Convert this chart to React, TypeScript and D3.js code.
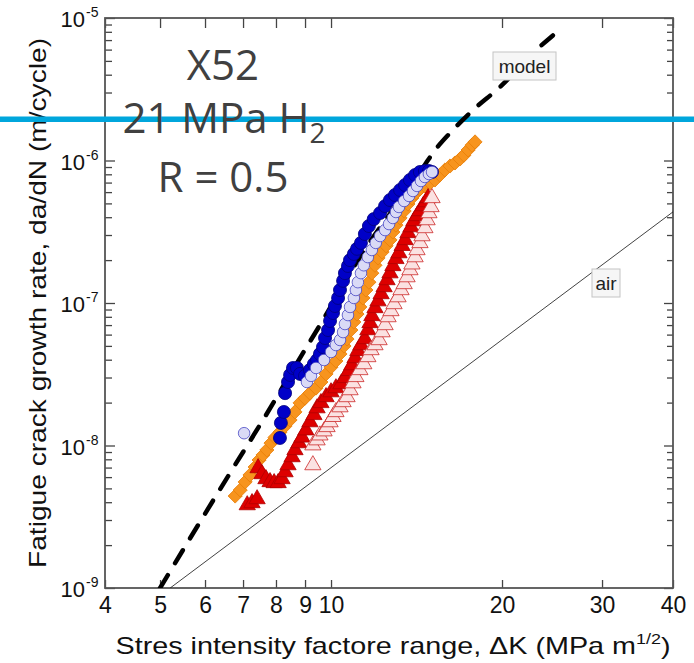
import React, { useEffect, useRef } from 'react';
import * as d3 from 'd3';

const W = 694;
const H = 663;

// axis ticks
const xTicks = [4, 5, 6, 7, 8, 9, 10, 20, 30, 40];
const yExponents = [-9, -8, -7, -6, -5];

// [dK (MPa m^1/2), da/dN (m/cycle)]
const blueFilled: [number, number][] = [
  [8.13, 1.13e-8], [8.16, 1.44e-8], [8.26, 1.72e-8], [8.3, 2.33e-8], [8.4, 2.79e-8],
  [8.47, 3.13e-8], [8.57, 3.5e-8], [8.71, 3.5e-8], [8.82, 3.18e-8], [9.0, 3.08e-8],
  [9.18, 3.39e-8], [9.33, 3.73e-8], [9.45, 3.98e-8], [9.56, 4.39e-8], [9.68, 4.91e-8],
  [9.76, 5.68e-8], [9.88, 6.46e-8], [9.96, 7.48e-8], [10.08, 8.51e-8], [10.16, 9.53e-8],
  [10.29, 1.085e-7], [10.37, 1.234e-7], [10.5, 1.43e-7], [10.58, 1.62e-7], [10.71, 1.82e-7],
  [10.8, 2.0e-7], [10.97, 2.21e-7], [11.11, 2.4e-7], [11.29, 2.64e-7], [11.47, 3.05e-7],
  [11.66, 3.47e-7], [11.89, 3.88e-7], [12.2, 4.28e-7], [12.45, 4.79e-7], [12.7, 5.28e-7],
  [12.96, 5.73e-7], [13.23, 6.21e-7], [13.5, 6.73e-7], [13.77, 7.3e-7], [14.06, 7.91e-7],
  [14.34, 8.31e-7], [14.63, 8.44e-7], [14.87, 8.44e-7], [15.06, 8.31e-7],
];

const blueOpen: [number, number][] = [
  [7.03, 1.22e-8], [9.07, 2.79e-8], [9.22, 3.08e-8], [9.41, 3.5e-8], [9.72, 3.98e-8],
  [10.0, 4.53e-8], [10.2, 5.07e-8], [10.37, 5.5e-8], [10.5, 6.25e-8], [10.58, 7.12e-8],
  [10.71, 8.23e-8], [10.8, 9.38e-8], [10.97, 1.085e-7], [11.06, 1.234e-7], [11.15, 1.4e-7],
  [11.29, 1.62e-7], [11.42, 1.84e-7], [11.61, 2.1e-7], [11.8, 2.355e-7], [11.99, 2.64e-7],
  [12.2, 2.95e-7], [12.45, 3.25e-7], [12.65, 3.58e-7], [12.85, 3.95e-7], [13.01, 4.35e-7],
  [13.17, 4.72e-7], [13.45, 5.2e-7], [13.72, 5.64e-7], [13.94, 6.11e-7], [14.17, 6.63e-7],
  [14.4, 7.18e-7], [14.63, 7.66e-7], [14.87, 8.04e-7], [15.06, 8.31e-7],
];

const orangeDiamond: [number, number][] = [
  [6.78, 4.42e-9], [6.92, 4.87e-9], [7.06, 5.55e-9], [7.2, 6.21e-9], [7.35, 7.06e-9],
  [7.47, 7.91e-9], [7.59, 8.57e-9], [7.71, 9.3e-9], [7.84, 1.04e-8], [7.97, 1.14e-8],
  [8.13, 1.24e-8], [8.3, 1.37e-8], [8.47, 1.51e-8], [8.64, 1.72e-8], [8.82, 1.99e-8],
  [9.0, 2.15e-8], [9.18, 2.33e-8], [9.41, 2.53e-8], [9.6, 2.79e-8], [9.8, 3.18e-8],
  [10.0, 3.55e-8], [10.2, 3.92e-8], [10.37, 4.39e-8], [10.54, 4.99e-8], [10.67, 5.59e-8],
  [10.84, 6.46e-8], [10.97, 7.36e-8], [11.11, 8.37e-8], [11.24, 9.38e-8], [11.38, 1.085e-7],
  [11.52, 1.234e-7], [11.66, 1.4e-7], [11.8, 1.62e-7], [11.95, 1.84e-7], [12.1, 2.07e-7],
  [12.3, 2.28e-7], [12.5, 2.52e-7], [12.7, 2.77e-7], [12.85, 3.15e-7], [13.01, 3.52e-7],
  [13.23, 3.95e-7], [13.45, 4.42e-7], [13.66, 4.95e-7], [13.88, 5.46e-7], [14.11, 5.92e-7],
  [14.34, 6.31e-7], [14.63, 6.63e-7], [14.94, 6.96e-7], [15.24, 7.3e-7], [15.55, 7.91e-7],
  [15.87, 8.58e-7], [16.2, 9.15e-7], [16.53, 9.61e-7], [16.87, 1.025e-6], [17.14, 1.09e-6],
  [17.43, 1.185e-6], [17.71, 1.28e-6], [17.93, 1.35e-6],
];

const redFilled: [number, number][] = [
  [7.12, 3.82e-9], [7.26, 3.95e-9], [7.41, 4.21e-9], [7.44, 6.95e-9], [7.56, 6.31e-9],
  [7.68, 5.82e-9], [7.81, 5.55e-9], [7.94, 5.46e-9], [8.07, 5.46e-9], [8.2, 5.82e-9],
  [8.3, 6.51e-9], [8.4, 7.29e-9], [8.54, 8.3e-9], [8.64, 9.3e-9], [8.78, 1.04e-8],
  [8.89, 1.14e-8], [9.03, 1.28e-8], [9.18, 1.46e-8], [9.33, 1.64e-8], [9.45, 1.83e-8],
  [9.6, 1.99e-8], [9.8, 2.19e-8], [10.0, 2.37e-8], [10.2, 2.53e-8], [10.41, 2.7e-8],
  [10.58, 2.98e-8], [10.75, 3.34e-8], [10.88, 3.67e-8], [11.02, 4.11e-8], [11.15, 4.61e-8],
  [11.29, 5.07e-8], [11.47, 5.59e-8], [11.61, 6.46e-8], [11.71, 7.24e-8], [11.8, 8.11e-8],
  [11.95, 9.23e-8], [12.1, 1.03e-7], [12.25, 1.156e-7], [12.4, 1.295e-7], [12.55, 1.45e-7],
  [12.7, 1.62e-7], [12.85, 1.82e-7], [13.01, 2.04e-7], [13.17, 2.24e-7], [13.34, 2.52e-7],
  [13.5, 2.77e-7], [13.66, 3.1e-7], [13.83, 3.41e-7], [13.99, 3.76e-7], [14.17, 4.08e-7],
  [14.34, 4.42e-7], [14.52, 4.79e-7], [14.69, 5.11e-7], [14.82, 5.46e-7],
];

const pinkOpen: [number, number][] = [
  [9.29, 7.29e-9], [9.29, 1.005e-8], [9.45, 1.09e-8], [9.56, 1.18e-8], [9.72, 1.26e-8],
  [9.84, 1.35e-8], [9.96, 1.46e-8], [10.08, 1.59e-8], [10.2, 1.72e-8], [10.37, 1.86e-8],
  [10.5, 2.02e-8], [10.67, 2.19e-8], [10.8, 2.45e-8], [10.93, 2.74e-8], [11.06, 3.03e-8],
  [11.24, 3.39e-8], [11.42, 3.73e-8], [11.61, 4.18e-8], [11.76, 4.68e-8], [11.95, 5.07e-8],
  [12.15, 5.5e-8], [12.3, 6.25e-8], [12.45, 7.01e-8], [12.6, 7.97e-8], [12.75, 8.79e-8],
  [12.91, 9.84e-8], [13.12, 1.1e-7], [13.28, 1.234e-7], [13.45, 1.36e-7], [13.61, 1.52e-7],
  [13.77, 1.704e-7], [13.88, 1.87e-7], [14.06, 2.1e-7], [14.17, 2.355e-7], [14.34, 2.64e-7],
  [14.46, 2.95e-7], [14.63, 3.36e-7], [14.76, 3.82e-7], [14.87, 4.28e-7], [15.0, 4.72e-7],
  [15.06, 5.46e-7],
];

const modelCurve: [number, number][] = [
  [5.0, 1.0e-9], [5.88, 2.91e-9], [6.64, 6.41e-9], [7.59, 1.51e-8], [8.71, 3.79e-8],
  [9.68, 7.6e-8], [11.24, 2.1e-7], [13.23, 5.28e-7], [14.17, 7.66e-7], [14.82, 1.008e-6],
  [15.4, 1.244e-6], [16.2, 1.56e-6], [17.78, 2.26e-6], [19.84, 3.28e-6], [22.68, 5.68e-6],
  [25.61, 8.65e-6],
];

const airLine: [number, number][] = [[5.21, 1e-9], [40, 4.36e-7]];

const h2Level = 1.95e-6;

const App = () => {
  const svgRef = useRef<SVGSVGElement>(null);

  useEffect(() => {
    const svg = d3.select(svgRef.current);
    svg.selectAll('*').remove();

    const margin = { top: 18, right: 21, bottom: 75, left: 105 };
    const x = d3.scaleLog().domain([4, 40]).range([margin.left, W - margin.right]);
    const y = d3.scaleLog().domain([1e-9, 1e-5]).range([H - margin.bottom, margin.top]);
    const x0 = margin.left, x1 = W - margin.right, y0 = H - margin.bottom, y1 = margin.top;

    const axisFont = "'Liberation Sans', Arial, Helvetica, sans-serif";
    const yMajor = yExponents.map(e => Math.pow(10, e));
    const yMinor = d3.range(-9, -5).flatMap(e => d3.range(2, 10).map(m => m * Math.pow(10, e)));

    svg.append('defs').append('clipPath').attr('id', 'plot-clip')
      .append('rect').attr('x', x0).attr('y', y1).attr('width', x1 - x0).attr('height', y0 - y1);

    const styleAxis = (g: any) => {
      g.select('.domain').remove();
      g.selectAll('.tick line').attr('stroke', '#444').attr('stroke-width', 1.3);
      g.selectAll('text').attr('font-family', axisFont).attr('font-size', 23).attr('fill', '#111');
    };

    // bottom / top
    svg.append('g').attr('transform', `translate(0,${y0})`)
      .call(d3.axisBottom(x).tickValues(xTicks).tickSize(-8).tickPadding(9).tickFormat(d3.format('d')))
      .call(styleAxis);
    svg.append('g').attr('transform', `translate(0,${y1})`)
      .call(d3.axisTop(x).tickValues(xTicks).tickSize(-10).tickFormat(() => ''))
      .call(styleAxis);

    // left / right
    svg.append('g').attr('transform', `translate(${x0},0)`)
      .call(d3.axisLeft(y).tickValues(yMajor).tickSize(-10).tickFormat(() => ''))
      .call(styleAxis);
    svg.append('g').attr('transform', `translate(${x0},0)`)
      .call(d3.axisLeft(y).tickValues(yMinor).tickSize(-7).tickFormat(() => ''))
      .call(styleAxis);
    svg.append('g').attr('transform', `translate(${x1},0)`)
      .call(d3.axisRight(y).tickValues(yMajor).tickSize(-9).tickFormat(() => ''))
      .call(styleAxis);
    svg.append('g').attr('transform', `translate(${x1},0)`)
      .call(d3.axisRight(y).tickValues(yMinor).tickSize(-6).tickFormat(() => ''))
      .call(styleAxis);

    // y tick labels 10^e
    yExponents.forEach(e => {
      const yy = y(Math.pow(10, e));
      svg.append('text').attr('x', 85).attr('y', yy + 9).attr('text-anchor', 'end')
        .attr('font-family', axisFont).attr('font-size', 22).attr('fill', '#111').text('10');
      svg.append('text').attr('x', 86).attr('y', yy - 1)
        .attr('font-family', axisFont).attr('font-size', 14).attr('fill', '#111').text(`-${-e}`);
    });

    // frame
    svg.append('rect').attr('x', x0).attr('y', y1).attr('width', x1 - x0).attr('height', y0 - y1)
      .attr('fill', 'none').attr('stroke', '#555').attr('stroke-width', 1.8);

    // axis titles
    const xt = svg.append('text').attr('x', 393).attr('y', 654).attr('text-anchor', 'middle')
      .attr('font-family', axisFont).attr('font-size', 24).attr('fill', '#111')
      .attr('textLength', 555).attr('lengthAdjust', 'spacingAndGlyphs');
    xt.append('tspan').text('Stres intensity factore range, \u0394K (MPa m');
    xt.append('tspan').attr('dy', -10).attr('font-size', 15).text('1/2');
    xt.append('tspan').attr('dy', 10).text(')');

    svg.append('text').attr('transform', 'translate(46,303) rotate(-90)').attr('text-anchor', 'middle')
      .attr('font-family', axisFont).attr('font-size', 24).attr('fill', '#111')
      .attr('textLength', 530).attr('lengthAdjust', 'spacingAndGlyphs')
      .text('Fatigue crack growth rate, da/dN (m/cycle)');

    // cyan H2 level bar across the figure
    svg.append('line').attr('x1', 0).attr('x2', W).attr('y1', y(h2Level)).attr('y2', y(h2Level))
      .attr('stroke', '#00a6dc').attr('stroke-width', 5.5);

    // annotation text
    const annFont = "'Open Sans', 'Noto Sans', sans-serif";
    svg.append('text').attr('x', 223).attr('y', 80).attr('text-anchor', 'middle')
      .attr('font-family', annFont).attr('font-size', 42).attr('fill', '#404040').text('X52');
    const t2 = svg.append('text').attr('x', 224).attr('y', 133).attr('text-anchor', 'middle')
      .attr('font-family', annFont).attr('font-size', 42).attr('fill', '#404040');
    t2.append('tspan').text('21 MPa H');
    t2.append('tspan').attr('dy', 10).attr('font-size', 28).text('2');
    svg.append('text').attr('x', 223).attr('y', 192).attr('text-anchor', 'middle')
      .attr('font-family', annFont).attr('font-size', 42).attr('fill', '#404040').text('R = 0.5');

    const plot = svg.append('g').attr('clip-path', 'url(#plot-clip)');
    const line = d3.line<[number, number]>().x(d => x(d[0])).y(d => y(d[1]));

    plot.append('path').datum(airLine).attr('d', line).attr('fill', 'none')
      .attr('stroke', '#111').attr('stroke-width', 0.8);

    plot.append('path').datum(modelCurve).attr('d', line.curve(d3.curveMonotoneX)).attr('fill', 'none')
      .attr('stroke', '#000').attr('stroke-width', 4.5).attr('stroke-dasharray', '15,14')
      .attr('stroke-linecap', 'round');

    const drawMarkers = (data: [number, number][], type: any, size: number, fill: string, stroke: string, sw: number, rot = 0) => {
      const sym = d3.symbol().type(type).size(size);
      plot.append('g').selectAll('path').data(data).enter().append('path')
        .attr('d', sym as any)
        .attr('transform', d => `translate(${x(d[0])},${y(d[1])}) rotate(${rot})`)
        .attr('fill', fill).attr('stroke', stroke).attr('stroke-width', sw);
    };

    drawMarkers(orangeDiamond, d3.symbolSquare, 100, '#f7941e', '#e8800a', 0.8, 45);
    drawMarkers(redFilled, d3.symbolTriangle, 115, '#dd0000', '#b00000', 0.8);
    drawMarkers(pinkOpen, d3.symbolTriangle, 115, '#fbe2e2', '#cc2a2a', 0.8);
    drawMarkers(blueFilled, d3.symbolCircle, 133, '#0000c8', '#00007a', 0.8);
    drawMarkers(blueOpen, d3.symbolCircle, 105, '#dadaf6', '#4848c4', 0.8);

    // labels for the curves
    const boxLabel = (cx: number, cy: number, w: number, label: string) => {
      svg.append('rect').attr('x', cx - w / 2).attr('y', cy - 14).attr('width', w).attr('height', 28)
        .attr('fill', '#f6f6f6').attr('stroke', '#c4c4c4').attr('stroke-width', 1);
      svg.append('text').attr('x', cx).attr('y', cy + 7).attr('text-anchor', 'middle')
        .attr('font-family', axisFont).attr('font-size', 19).attr('fill', '#222').text(label);
    };
    boxLabel(524.5, 66, 63, 'model');
    boxLabel(606, 283, 28, 'air');
  }, []);

  return (
    <svg ref={svgRef} width={W} height={H}
      style={{ position: 'absolute', left: 0, top: 0, background: '#fff' }} />
  );
};

export default App;
